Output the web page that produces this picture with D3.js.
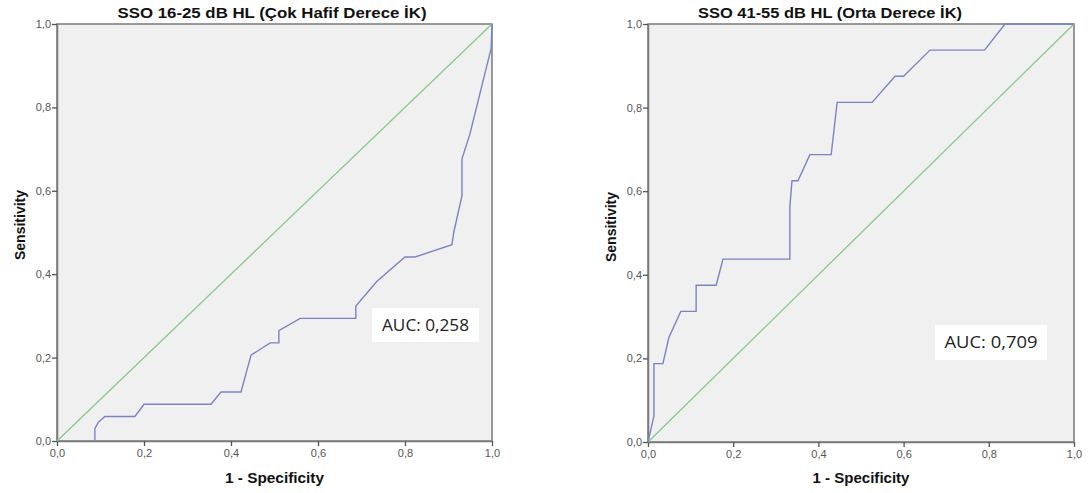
<!DOCTYPE html>
<html><head><meta charset="utf-8">
<script src="https://cdn.jsdelivr.net/npm/d3@7/dist/d3.min.js"></script>
<style>
html,body{margin:0;padding:0;background:#fff;}
svg{display:block;}
</style></head>
<body>
<svg id="chart" width="1088" height="493"></svg>
<script>
// ---- data ----
const titles = ["SSO 16-25 dB HL (Çok Hafif Derece İK)", "SSO 41-55 dB HL (Orta Derece İK)"];
const aucLabels = ["AUC: 0,258", "AUC: 0,709"];
const tickValues = [0, 0.2, 0.4, 0.6, 0.8, 1.0];
const tickLabels = ["0,0", "0,2", "0,4", "0,6", "0,8", "1,0"];
const xAxisTitle = "1 - Specificity";
const yAxisTitle = "Sensitivity";

const leftFPR = [0.087,0.087,0.095,0.110,0.179,0.200,0.354,0.377,0.423,0.446,0.490,0.510,0.510,0.559,0.687,0.687,0.735,0.800,0.823,0.908,0.912,0.931,0.931,0.949,0.998,1.000];
const leftTPR = [0.000,0.0294,0.045,0.0588,0.0588,0.0882,0.0882,0.1176,0.1176,0.2059,0.2353,0.2353,0.2647,0.2941,0.2941,0.3235,0.3824,0.4412,0.4412,0.4706,0.5000,0.5882,0.6765,0.7353,0.9412,1.000];

const rightFPR = [0,0.014,0.014,0.035,0.049,0.077,0.113,0.113,0.160,0.176,0.333,0.333,0.338,0.352,0.380,0.430,0.444,0.526,0.580,0.600,0.662,0.790,0.838,1.000];
const rightTPR = [0,0.0625,0.1875,0.1875,0.25,0.3125,0.3125,0.375,0.375,0.4375,0.4375,0.5625,0.625,0.625,0.6875,0.6875,0.8125,0.8125,0.875,0.875,0.9375,0.9375,1.0,1.0];

const diagonal = [0, 1];

// ---- layout ----
const panels = [
  {x0:57, x1:492, y0:441, y1:24, fpr:leftFPR, tpr:leftTPR, title:titles[0], titleX:272, titleW:309,
   auc:aucLabels[0], aucW:87, box:{x:372,y:308,w:107,h:34}, yLabX:20, yLabY:225, xLabW:99},
  {x0:648, x1:1074, y0:442, y1:24, fpr:rightFPR, tpr:rightTPR, title:titles[1], titleX:830, titleW:264,
   auc:aucLabels[1], aucW:93, box:{x:935,y:325,w:112,h:35}, yLabX:611, yLabY:227, xLabW:97}
];

const svg = d3.select("#chart");
const axisColor = "#7a7a7a";
const textColor = "#555";

panels.forEach(p => {
  const x = d3.scaleLinear().domain([0,1]).range([p.x0, p.x1]);
  const y = d3.scaleLinear().domain([0,1]).range([p.y0, p.y1]);
  const g = svg.append("g");

  g.append("rect").attr("x", p.x0).attr("y", p.y1)
    .attr("width", p.x1 - p.x0).attr("height", p.y0 - p.y1)
    .attr("fill", "#f0f0f0").attr("stroke", axisColor).attr("stroke-width", 1.5);

  // axes
  const xAxis = d3.axisBottom(x).tickValues(tickValues).tickFormat((d,i)=>tickLabels[i]).tickSize(5).tickSizeOuter(0);
  const yAxis = d3.axisLeft(y).tickValues(tickValues).tickFormat((d,i)=>tickLabels[i]).tickSize(5).tickSizeOuter(0);
  const gx = g.append("g").attr("transform", `translate(0,${p.y0})`).call(xAxis);
  const gy = g.append("g").attr("transform", `translate(${p.x0},0)`).call(yAxis);
  [gx, gy].forEach(a => {
    a.select(".domain").attr("stroke", axisColor).attr("stroke-width", 1.5);
    a.selectAll(".tick line").attr("stroke", "#555").attr("stroke-width", 1.3);
    a.selectAll(".tick text").attr("fill", textColor)
      .style("font-family", "'Liberation Sans', Arial, sans-serif").style("font-size", "11px");
  });
  gx.selectAll(".tick text").attr("dy", "0.9em").attr("y", 6);
  gy.selectAll(".tick text").attr("x", -6);

  // diagonal
  g.append("line")
    .attr("x1", x(diagonal[0])).attr("y1", y(diagonal[0]))
    .attr("x2", x(diagonal[1])).attr("y2", y(diagonal[1]))
    .attr("stroke", "#86c98a").attr("stroke-width", 1.3);

  // ROC curve
  const pts = p.fpr.map((f,i) => [f, p.tpr[i]]);
  g.append("path").datum(pts)
    .attr("d", d3.line().x(d=>x(d[0])).y(d=>y(d[1])))
    .attr("fill", "none").attr("stroke", "#7a84c2").attr("stroke-width", 1.4);

  // title
  g.append("text").attr("x", p.titleX).attr("y", 18).attr("text-anchor", "middle")
    .attr("textLength", p.titleW).attr("lengthAdjust", "spacingAndGlyphs")
    .style("font-family", "'Liberation Sans', Arial, sans-serif").style("font-weight", "bold")
    .style("font-size", "15px").attr("fill", "#111").text(p.title);

  // axis titles
  g.append("text").attr("x", (p.x0+p.x1)/2).attr("y", 483).attr("text-anchor", "middle")
    .attr("textLength", p.xLabW).attr("lengthAdjust", "spacingAndGlyphs")
    .style("font-family", "'Liberation Sans', Arial, sans-serif").style("font-weight", "bold")
    .style("font-size", "14px").attr("fill", "#111").text(xAxisTitle);
  g.append("text").attr("transform", `translate(${p.yLabX},${p.yLabY}) rotate(-90)`)
    .attr("text-anchor", "middle").attr("dy", "0.35em")
    .style("font-family", "'Liberation Sans', Arial, sans-serif").style("font-weight", "bold")
    .style("font-size", "14px").attr("fill", "#111").text(yAxisTitle);

  // AUC box
  g.append("rect").attr("x", p.box.x).attr("y", p.box.y).attr("width", p.box.w).attr("height", p.box.h)
    .attr("fill", "#fff");
  g.append("text").attr("x", p.box.x + p.box.w/2).attr("y", p.box.y + p.box.h/2)
    .attr("text-anchor", "middle").attr("dy", "0.36em")
    .attr("textLength", p.aucW).attr("lengthAdjust", "spacingAndGlyphs")
    .style("font-family", "'Open Sans', 'Liberation Sans', sans-serif").style("font-size", "16.5px")
    .attr("fill", "#222").text(p.auc);
});
</script>
</body></html>
